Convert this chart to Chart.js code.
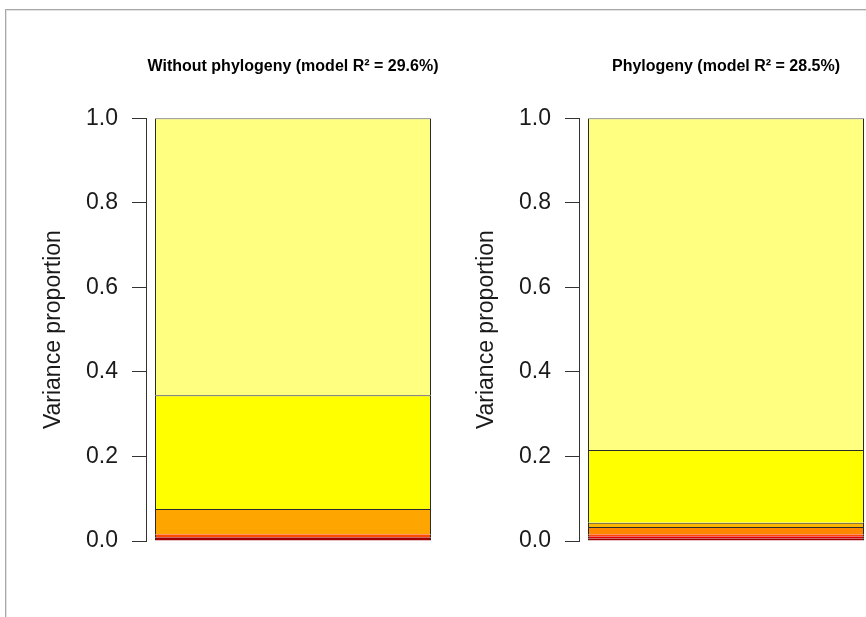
<!DOCTYPE html>
<html><head><meta charset="utf-8">
<script src="https://cdn.jsdelivr.net/npm/chart.js@4"></script>
<style>
html,body{margin:0;padding:0;background:#fff;width:866px;height:617px;overflow:hidden;position:relative}
#frame{position:absolute;left:5px;top:9px;width:900px;height:700px;border-top:1px solid #a8a8a8;border-left:1px solid #a8a8a8;box-shadow:inset 1px 1px 0 #e2e2e2}
canvas{position:absolute;top:0}
</style></head><body>
<div id="frame"></div>
<canvas id="c1" width="586" height="617" style="left:0;width:586px;height:617px"></canvas>
<canvas id="c2" width="586" height="617" style="left:433px;width:586px;height:617px"></canvas>
<script>
// ---- data ----
const categories = [''];
const panelTitles = ['Without phylogeny (model R\u00B2 = 29.6%)', 'Phylogeny (model R\u00B2 = 28.5%)'];
const yAxisTitle = 'Variance proportion';
const yTickLabels = ['0.0', '0.2', '0.4', '0.6', '0.8', '1.0'];

const leftNames  = ['Component 1', 'Component 2', 'Component 3', 'Component 4', 'Component 5'];
const leftValues = [0.0087, 0.0071, 0.060, 0.269, 0.6552];
const leftColors = ['#a00000', '#ff4a00', '#ffa500', '#ffff00', '#ffff80'];

const rightNames  = ['Component 1', 'Component 2', 'Component 3', 'Component 4', 'Component 5', 'Component 6', 'Component 7'];
const rightValues = [0.0064, 0.0047, 0.0047, 0.0173, 0.0102, 0.172, 0.7847];
const rightColors = ['#a00000', '#e00000', '#ff4500', '#ff8800', '#ffb400', '#ffff00', '#ffff80'];

// ---- chart ----
const FONT = "'Liberation Sans', Arial, sans-serif";
function makeChart(id, title, names, values, colors) {
  return new Chart(document.getElementById(id), {
    type: 'bar',
    data: {
      labels: categories,
      datasets: names.map((n, i) => ({
        label: n, data: [values[i]], backgroundColor: colors[i],
        borderColor: '#2a2a2a',
        borderWidth: values[i] < 0.01 ? { top: 0, left: 1, right: 1, bottom: 0 } : { top: 1, left: 1, right: 1, bottom: 0 },
        borderSkipped: false, inflateAmount: 0,
        categoryPercentage: 1, barPercentage: 276 / 294, yAxisID: 'y'
      }))
    },
    options: {
      responsive: false, animation: false, devicePixelRatio: 1,
      layout: { padding: { left: 0, right: 0, top: 0, bottom: 76 } },
      plugins: {
        legend: { display: false }, tooltip: { enabled: false },
        title: { display: true, text: title, color: '#000',
          font: { family: FONT, size: 16, weight: 'bold' }, padding: { top: 57, bottom: 42 } }
      },
      scales: {
        x: { display: false, stacked: true },
        y: {
          stacked: true, min: 0, max: 1, position: 'left',
          afterFit(s) { s.width = 146; },
          ticks: { stepSize: 0.2, callback: (v, i) => yTickLabels[i],
            font: { family: FONT, size: 23 }, color: '#1a1a1a', padding: 14 },
          grid: { drawOnChartArea: false, drawTicks: true, tickLength: 14, color: '#333', lineWidth: 1 },
          border: { display: true, color: '#333', width: 1 },
          title: { display: true, text: yAxisTitle, color: '#1a1a1a',
            font: { family: FONT, size: 23 }, padding: { top: 40, bottom: 0 } }
        },
        yR: {
          position: 'right', min: 0, max: 1,
          afterFit(s) { s.width = 146; },
          ticks: { display: false },
          grid: { display: false, drawTicks: false },
          border: { display: false },
          title: { display: false }
        }
      }
    }
  });
}
makeChart('c1', panelTitles[0], leftNames, leftValues, leftColors);
makeChart('c2', panelTitles[1], rightNames, rightValues, rightColors);
</script>
</body></html>
